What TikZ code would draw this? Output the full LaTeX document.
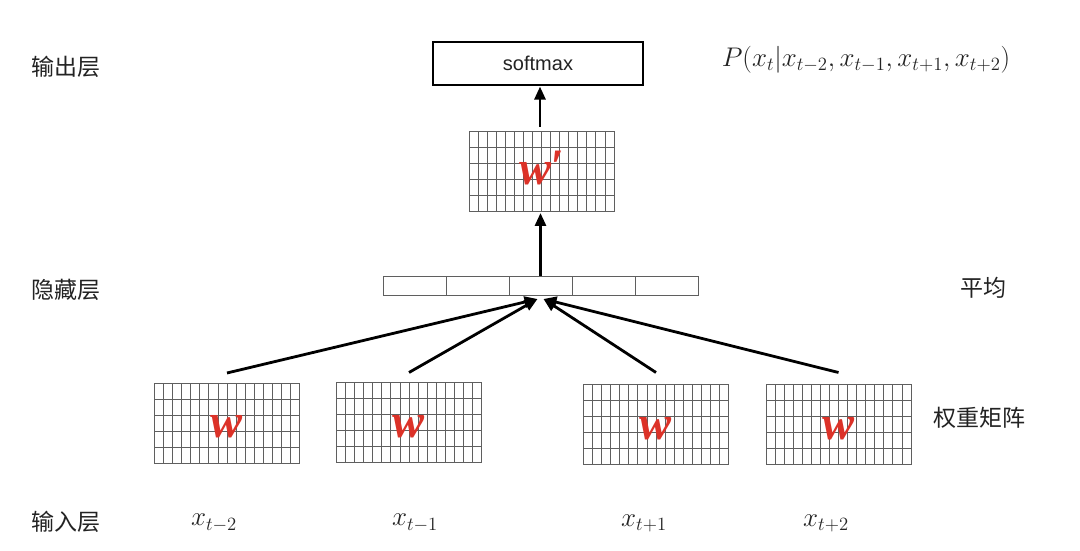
\documentclass[tikz,border=0pt]{standalone}
\usepackage{fontspec}
\usepackage{amsmath}
\usepackage{graphicx}
\setsansfont{Liberation Sans}
\newfontfamily\cjk{Noto Sans CJK SC}
\newfontfamily\wf{Liberation Serif}
\usetikzlibrary{arrows.meta}
\definecolor{wred}{RGB}{220,50,40}
\definecolor{gridc}{RGB}{95,95,95}
\definecolor{txt}{RGB}{35,35,35}
\begin{document}
\begin{tikzpicture}[x=1pt,y=1pt,
  gridbox/.style={draw=gridc, line width=0.8pt, minimum width=145pt, minimum height=80pt,
    inner sep=0pt, outer sep=0pt, text=wred, font=\wf\bfseries\itshape\fontsize{48}{48}\selectfont,
    path picture={
      \foreach \i in {1,...,15}{\draw[gridc,line width=0.8pt] ([xshift=\i*9.0625pt]path picture bounding box.south west) -- ([xshift=\i*9.0625pt]path picture bounding box.north west);}
      \foreach \j in {1,...,4}{\draw[gridc,line width=0.8pt] ([yshift=\j*16pt]path picture bounding box.south west) -- ([yshift=\j*16pt]path picture bounding box.south east);}
    }},
  cell/.style={draw=gridc, line width=1pt, minimum width=63pt, minimum height=19pt, inner sep=0pt, outer sep=0pt},
  arr/.style={line width=2.8pt, -{Triangle[length=13pt,width=11pt]}},
  lab/.style={font=\cjk\fontsize{23}{26}\selectfont, text=txt, inner sep=0pt},
  mth/.style={font=\fontsize{20}{24}\selectfont, text=txt, inner sep=0pt}
]
\useasboundingbox (0,0) rectangle (1080,551);
\fill[white] (0,0) rectangle (1080,551);

% output layer
\node[draw, line width=1.2pt, minimum width=210pt, minimum height=43pt, inner sep=0pt,
      font=\sffamily\fontsize{20}{24}\selectfont, text=txt] (sm) at (538,487.5) {softmax};
\node[mth] (prob) at (866,491) {\scalebox{1.3}{$P(x_t|x_{t-2},x_{t-1},x_{t+1},x_{t+2})$}};

% W'
\node[gridbox] (wp) at (541.5,380) {\smash{\raisebox{-14pt}{w\kern-1pt\raisebox{2pt}{\symbol{"2032}}}}};

% hidden bar
\node[cell] (b1) at (414.5,264.5) {};
\node[cell] (b2) at (477.5,264.5) {};
\node[cell] (b3) at (540.5,264.5) {};
\node[cell] (b4) at (603.5,264.5) {};
\node[cell] (b5) at (666.5,264.5) {};

% W grids
\node[gridbox] (g1) at (227,128) {\smash{\raisebox{-15pt}{w}}};
\node[gridbox] (g2) at (409,128.5) {\smash{\raisebox{-15pt}{w}}};
\node[gridbox] (g3) at (656,126.5) {\smash{\raisebox{-15pt}{w}}};
\node[gridbox] (g4) at (838.5,126.5) {\smash{\raisebox{-15pt}{w}}};

% arrows
\draw[arr] ([yshift=10pt]g1.north) -- ([xshift=-3pt,yshift=-3pt]b3.south);
\draw[arr] ([yshift=10pt]g2.north) -- ([xshift=-3pt,yshift=-3pt]b3.south);
\draw[arr] ([yshift=12pt]g3.north) -- ([xshift=3pt,yshift=-3pt]b3.south);
\draw[arr] ([yshift=12pt]g4.north) -- ([xshift=3pt,yshift=-3pt]b3.south);
\draw[arr] ([yshift=1pt]b3.north) -- ([yshift=-2pt]b3.north |- wp.south);
\draw[arr] ([xshift=-1.5pt,yshift=4pt]wp.north) -- ([xshift=-1.5pt,yshift=-1pt]wp.north |- sm.south);

% side labels
\node[lab] (lout) at (66,484) {输出层};
\node[lab] (lhid) at (66,261) {隐藏层};
\node[lab] (lin) at (66,29) {输入层};
\node[lab] (lavg) at (983,263) {平均};
\node[lab] (lw) at (979,133) {权重矩阵};

% inputs
\node[mth] (x1) at (214,28) {\scalebox{1.3}{$x_{t-2}$}};
\node[mth] (x2) at (415,28) {\scalebox{1.3}{$x_{t-1}$}};
\node[mth] (x3) at (644,28) {\scalebox{1.3}{$x_{t+1}$}};
\node[mth] (x4) at (826,28) {\scalebox{1.3}{$x_{t+2}$}};
\end{tikzpicture}
\end{document}
